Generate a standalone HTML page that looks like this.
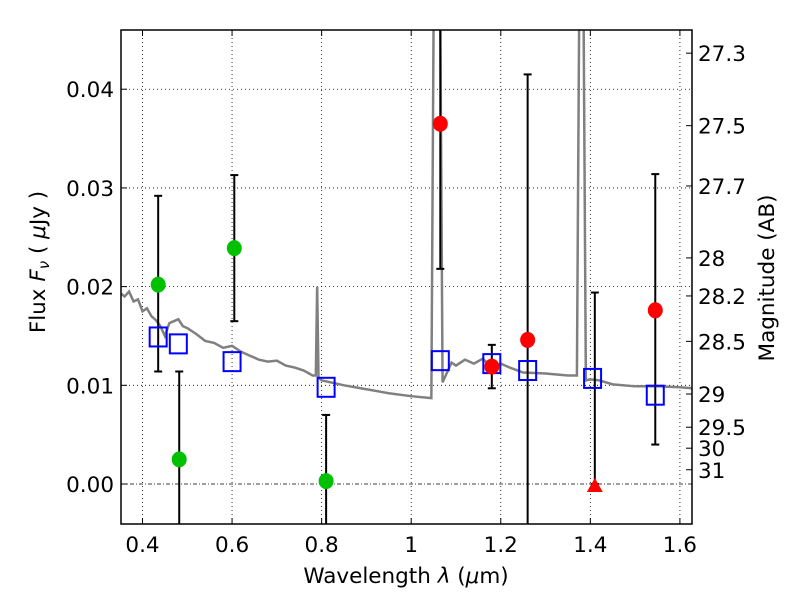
<!DOCTYPE html>
<html><head><meta charset="utf-8"><style>
body{margin:0;background:#fff;}
svg text{font-family:"DejaVu Sans","Liberation Sans",sans-serif;font-size:21.5px;fill:#000;}
</style></head><body>
<svg id="c" width="800" height="600" xmlns="http://www.w3.org/2000/svg"></svg>
<script>
const xTicks=[0.4,0.6,0.8,1.0,1.2,1.4,1.6];
const xTickLabels=["0.4","0.6","0.8","1","1.2","1.4","1.6"];
const yTicks=[0,0.01,0.02,0.03,0.04];
const yTickLabels=["0.00","0.01","0.02","0.03","0.04"];
const magTicks=[27.3,27.5,27.7,28,28.2,28.5,29,29.5,30,31];
const specWave=[0.352,0.36,0.37,0.38,0.39,0.40,0.41,0.42,0.43,0.44,0.45,0.46,0.47,0.48,0.49,0.50,0.52,0.54,0.56,0.58,0.60,0.62,0.64,0.66,0.68,0.70,0.72,0.74,0.76,0.78,0.787,0.79,0.793,0.80,0.85,0.90,0.95,1.00,1.045,1.05,1.06,1.065,1.07,1.08,1.09,1.10,1.12,1.14,1.16,1.18,1.20,1.22,1.25,1.30,1.35,1.37,1.375,1.385,1.39,1.40,1.42,1.45,1.50,1.55,1.60,1.627];
const specFlux=[0.0193,0.0190,0.0195,0.0185,0.0187,0.0175,0.0178,0.0170,0.0166,0.0160,0.0150,0.0163,0.0165,0.0167,0.0160,0.0158,0.0152,0.0145,0.0143,0.0138,0.0140,0.0134,0.0130,0.0126,0.0124,0.0125,0.0120,0.0118,0.0115,0.0110,0.0110,0.0200,0.0108,0.0105,0.0100,0.0096,0.0092,0.0089,0.0087,0.0470,0.0470,0.0470,0.0103,0.0113,0.0123,0.0120,0.0126,0.0122,0.0127,0.0118,0.0122,0.0118,0.0113,0.0112,0.0110,0.0110,0.0470,0.0470,0.0105,0.0106,0.0105,0.0101,0.0099,0.0099,0.0098,0.0097];
const greenWave=[0.435,0.482,0.605,0.81];
const greenFlux=[0.0202,0.0025,0.0239,0.0003];
const greenLo=[0.0114,-0.006,0.0165,-0.006];
const greenHi=[0.0292,0.0114,0.0313,0.0070];
const redWave=[1.065,1.18,1.26,1.545];
const redFlux=[0.0365,0.0119,0.0146,0.0176];
const redLo=[0.0218,0.0097,-0.006,0.0040];
const redHi=[0.05,0.0141,0.0415,0.0314];
const limWave=[1.41];
const limFlux=[0.0];
const limHi=[0.0194];
const modelWave=[0.435,0.48,0.60,0.81,1.065,1.18,1.26,1.405,1.545];
const modelFlux=[0.0149,0.0142,0.0124,0.0098,0.0125,0.0122,0.0115,0.0107,0.0090];

const L=121,R=692,T=30,B=524;
const X0=0.352,X1=1.627,Y0=-0.00405,Y1=0.0460;
const sx=v=>L+(v-X0)/(X1-X0)*(R-L);
const sy=v=>B-(v-Y0)/(Y1-Y0)*(B-T);
const svg=document.getElementById('c');
const NS="http://www.w3.org/2000/svg";
function mk(tag,attrs,parent){const e=document.createElementNS(NS,tag);for(const k in attrs)e.setAttribute(k,attrs[k]);(parent||svg).appendChild(e);return e;}
const clip=mk('clipPath',{id:'pc'});mk('rect',{x:L,y:T,width:R-L,height:B-T},clip);
const plot=mk('g',{'clip-path':'url(#pc)'});


xTicks.forEach(v=>{const g=mk('line',{x1:sx(v),x2:sx(v),y1:T,y2:B,stroke:'#000','stroke-width':0.8,'stroke-dasharray':'1,3'},plot);

});
yTicks.forEach(v=>{const g=mk('line',{x1:L,x2:R,y1:sy(v),y2:sy(v),stroke:'#000','stroke-width':0.8,'stroke-dasharray':v===0?'4,2,1,2':'1,3'},plot);

});
const sp=mk('polyline',{points:specWave.map((w,i)=>sx(w)+','+sy(specFlux[i])).join(' '),fill:'none',stroke:'#808080','stroke-width':2.5},plot);


function err(x,lo,hi){const g=mk('g',{stroke:'#000','stroke-width':2},plot);


mk('line',{x1:sx(x),x2:sx(x),y1:sy(lo),y2:sy(hi)},g);
[lo,hi].forEach(v=>mk('line',{x1:sx(x)-4,x2:sx(x)+4,y1:sy(v),y2:sy(v)},g));}
greenWave.forEach((w,i)=>err(w,greenLo[i],greenHi[i]));
redWave.forEach((w,i)=>err(w,redLo[i],redHi[i]));
limWave.forEach((w,i)=>err(w,limFlux[i],limHi[i]));
modelWave.forEach((w,i)=>{const r=mk('rect',{x:sx(w)-8.5,y:sy(modelFlux[i])-9.5,width:17,height:19,fill:'none',stroke:'#0000ff','stroke-width':2},plot);

});
greenWave.forEach((w,i)=>{const c=mk('ellipse',{cx:sx(w),cy:sy(greenFlux[i]),rx:7.5,ry:8,fill:'#00c000'},plot);

});
redWave.forEach((w,i)=>{const c=mk('ellipse',{cx:sx(w),cy:sy(redFlux[i]),rx:7.5,ry:8,fill:'#ff0000'},plot);

});
limWave.forEach((w,i)=>{const x=sx(w),y=sy(limFlux[i]);const t=mk('polygon',{points:`${x},${y-6} ${x-8},${y+8} ${x+8},${y+8}`,fill:'#ff0000'},plot);

});
const fr=mk('rect',{x:L,y:T,width:R-L,height:B-T,fill:'none',stroke:'#000','stroke-width':1.5});


xTicks.forEach((v,i)=>{mk('line',{x1:sx(v),x2:sx(v),y1:B,y2:B-6,stroke:'#000'});mk('line',{x1:sx(v),x2:sx(v),y1:T,y2:T+6,stroke:'#000'});
const t=mk('text',{x:sx(v),y:B+28,'text-anchor':'middle'});t.textContent=xTickLabels[i];

});
yTicks.forEach((v,i)=>{mk('line',{x1:L,x2:L+6,y1:sy(v),y2:sy(v),stroke:'#000'});
const t=mk('text',{x:L-7,y:sy(v)+8,'text-anchor':'end'});t.textContent=yTickLabels[i];

});
magTicks.forEach(m=>{const y=sy(Math.pow(10,(23.9-m)/2.5));mk('line',{x1:R,x2:R-6,y1:y,y2:y,stroke:'#000'});
const t=mk('text',{x:R+6,y:y+8});t.textContent=String(m);

});
const xl=mk('text',{x:406,y:583,'text-anchor':'middle'});xl.innerHTML='Wavelength  <tspan font-style="italic">λ</tspan> (<tspan font-style="italic">μ</tspan>m)';


const yl=mk('text',{x:0,y:0,'text-anchor':'middle',transform:'translate(45,262) rotate(-90)'});yl.innerHTML='Flux  <tspan font-style="italic">F</tspan><tspan font-size="15" dy="4" font-style="italic">ν</tspan><tspan dy="-4">  (  </tspan><tspan font-style="italic">μ</tspan>Jy )';


const ml=mk('text',{x:0,y:0,'text-anchor':'middle',transform:'translate(774,278) rotate(-90)'});ml.textContent='Magnitude (AB)';


</script>
</body></html>
